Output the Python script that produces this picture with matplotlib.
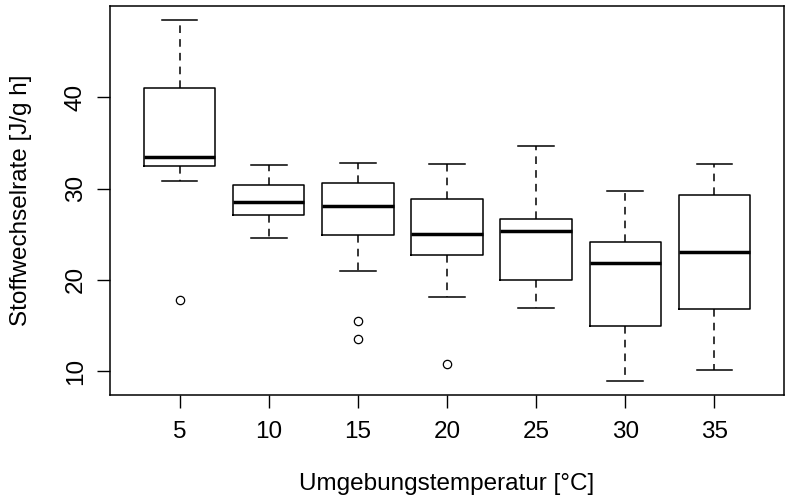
import matplotlib.pyplot as plt

plt.rcParams['font.family'] = ['Liberation Sans', 'DejaVu Sans']

temps = ['5', '10', '15', '20', '25', '30', '35']
whislo = [30.8, 24.55, 21.0, 18.1, 16.97, 8.98, 10.19]
q1 = [32.5, 27.07, 24.9, 22.7, 20.03, 15.0, 16.83]
med = [33.5, 28.5, 28.1, 25.03, 25.4, 21.9, 23.1]
q3 = [41.0, 30.35, 30.65, 28.9, 26.63, 24.16, 29.3]
whishi = [48.4, 32.6, 32.8, 32.7, 34.7, 29.74, 32.72]
fliers = [[17.8], [], [15.47, 13.5], [10.8], [], [], []]

stats = []
for i in range(len(temps)):
    stats.append(dict(whislo=whislo[i], q1=q1[i], med=med[i], q3=q3[i],
                      whishi=whishi[i], fliers=fliers[i], label=temps[i]))

fig = plt.figure(figsize=(7.85, 4.98), dpi=100)
ax = fig.add_axes([110 / 785, 103 / 498, 674 / 785, 389 / 498])

ax.bxp(stats, positions=range(1, 8), widths=0.8, capwidths=0.4,
       boxprops=dict(color='black', linewidth=1.1),
       whiskerprops=dict(color='black', linewidth=1.1, linestyle=(0, (5, 4))),
       capprops=dict(color='black', linewidth=1.1),
       medianprops=dict(color='black', linewidth=2.5, solid_capstyle='butt'),
       flierprops=dict(marker='o', markersize=6, markerfacecolor='none',
                       markeredgecolor='black', markeredgewidth=0.9))

ax.set_xlim(0.22, 7.78)
lo, hi = 8.98, 48.4
ax.set_ylim(lo - 0.04 * (hi - lo), hi + 0.04 * (hi - lo))
ax.set_yticks([10, 20, 30, 40])
ax.set_yticklabels(['10', '20', '30', '40'], rotation=90, va='center')

for s in ax.spines.values():
    s.set_linewidth(1.1)
ax.tick_params(axis='both', labelsize=17.5, length=9.4, width=1.0)
ax.tick_params(axis='x', pad=9.5)
ax.tick_params(axis='y', pad=7.3)

ax.set_xlabel('Umgebungstemperatur [°C]', fontsize=17.5, va='center')
ax.set_ylabel('Stoffwechselrate [J/g h]', fontsize=17.5, va='center')
ax.xaxis.set_label_coords(0.5, -0.229)
ax.yaxis.set_label_coords(-0.132, 0.5)

fig.savefig('out.png', dpi=100)
